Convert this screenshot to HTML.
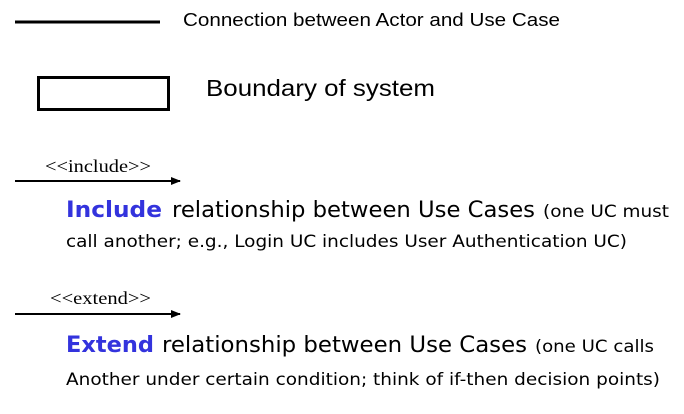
<!DOCTYPE html>
<html><head><meta charset="utf-8"><style>
html,body{margin:0;padding:0;background:#fff;width:684px;height:414px;overflow:hidden}
</style></head><body>
<svg width="684" height="414" xmlns="http://www.w3.org/2000/svg" font-family="'DejaVu Sans', 'Liberation Sans', sans-serif">
<defs><marker id="a" markerWidth="10" markerHeight="8" refX="9" refY="4" orient="auto" markerUnits="userSpaceOnUse"><path d="M0,0 L10,4 L0,8 z" fill="#000"/></marker></defs>
<rect x="0" y="0" width="684" height="414" fill="#fff"/>
<line x1="15" y1="22" x2="160" y2="22" stroke="#000" stroke-width="3"/>
<text x="183" y="26" font-family="'Liberation Sans', sans-serif" font-size="18" textLength="377" lengthAdjust="spacingAndGlyphs">Connection between Actor and Use Case</text>
<rect x="38.5" y="77.5" width="130" height="32" fill="none" stroke="#000" stroke-width="3"/>
<text x="206" y="96" font-family="'Liberation Sans', sans-serif" font-size="23" textLength="229" lengthAdjust="spacingAndGlyphs">Boundary of system</text>

<text x="45" y="172" font-family="'Liberation Serif', serif" font-size="18" textLength="106" lengthAdjust="spacingAndGlyphs">&lt;&lt;include&gt;&gt;</text>
<line x1="15" y1="181" x2="180" y2="181" stroke="#000" stroke-width="2" marker-end="url(#a)"/>
<text x="66" y="217" font-size="22" font-weight="bold" fill="#3333dd" textLength="96" lengthAdjust="spacingAndGlyphs">Include</text>
<text x="172" y="217" font-size="22" textLength="363" lengthAdjust="spacingAndGlyphs">relationship between Use Cases</text>
<text x="543" y="217" font-size="17" textLength="126" lengthAdjust="spacingAndGlyphs">(one UC must</text>
<text x="66" y="247" font-size="17" textLength="561" lengthAdjust="spacingAndGlyphs">call another; e.g., Login UC includes User Authentication UC)</text>

<text x="50" y="304" font-family="'Liberation Serif', serif" font-size="18" textLength="101" lengthAdjust="spacingAndGlyphs">&lt;&lt;extend&gt;&gt;</text>
<line x1="15" y1="314" x2="180" y2="314" stroke="#000" stroke-width="2" marker-end="url(#a)"/>
<text x="66" y="352" font-size="22" font-weight="bold" fill="#3333dd" textLength="88" lengthAdjust="spacingAndGlyphs">Extend</text>
<text x="162" y="352" font-size="22" textLength="365" lengthAdjust="spacingAndGlyphs">relationship between Use Cases</text>
<text x="535" y="352" font-size="17" textLength="119" lengthAdjust="spacingAndGlyphs">(one UC calls</text>
<text x="66" y="385" font-size="17" textLength="594" lengthAdjust="spacingAndGlyphs">Another under certain condition; think of if-then decision points)</text>
</svg>
</body></html>
